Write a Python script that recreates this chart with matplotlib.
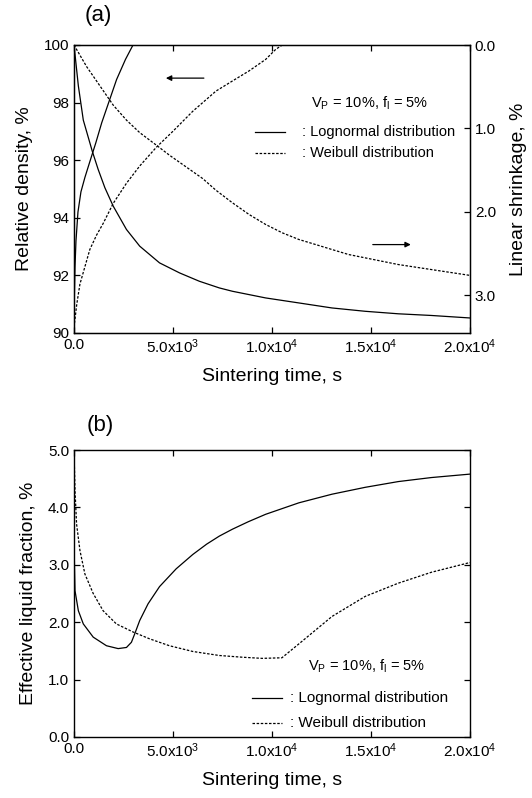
import matplotlib
matplotlib.use("Agg")
import matplotlib.pyplot as plt

plt.rcParams['font.family'] = ['Liberation Sans', 'DejaVu Sans']
plt.rcParams['mathtext.fontset'] = 'custom'
plt.rcParams['mathtext.rm'] = 'Liberation Sans'
plt.rcParams['mathtext.it'] = 'Liberation Sans:italic'

# --- data ---
# (a) relative density, lognormal
t_dens_logn = [0, 20, 50, 100, 200, 350, 550, 800, 1100, 1400, 1750, 2150, 2600, 2980, 20000]
dens_logn = [90.2, 91.3, 92.3, 93.2, 94.2, 94.9, 95.4, 95.95, 96.6, 97.3, 98.0, 98.8, 99.5, 100.0, 100.0]
# (a) relative density, weibull
t_dens_weib = [0, 140, 300, 550, 800, 1140, 1470, 1980, 2650, 3320, 4160, 4990, 6000, 7170,
               8000, 8840, 9680, 10190, 10520, 20000]
dens_weib = [90.2, 91.0, 91.7, 92.3, 92.9, 93.4, 93.8, 94.5, 95.2, 95.8, 96.45, 97.0, 97.7, 98.4,
             98.75, 99.1, 99.5, 99.85, 100.0, 100.0]
# (a) linear shrinkage, lognormal
t_shr_logn = [0, 220, 470, 920, 1220, 1560, 1980, 2650, 3320, 4320, 5330, 6330, 7340, 8000,
              9680, 11360, 13030, 14710, 16380, 18050, 20000]
shr_logn = [0.0, 0.49, 0.90, 1.27, 1.49, 1.71, 1.93, 2.21, 2.41, 2.61, 2.73, 2.83, 2.91, 2.95,
            3.03, 3.09, 3.15, 3.19, 3.22, 3.24, 3.27]
# (a) linear shrinkage, weibull
t_shr_weib = [0, 640, 1310, 1980, 2650, 3320, 4160, 4820, 5660, 6500, 7170, 8000, 8840, 9680,
              10520, 11360, 12200, 13030, 13870, 14710, 16380, 18050, 20000]
shr_weib = [0.0, 0.26, 0.49, 0.72, 0.90, 1.05, 1.20, 1.32, 1.46, 1.60, 1.74, 1.89, 2.03, 2.15,
            2.25, 2.33, 2.39, 2.45, 2.51, 2.55, 2.63, 2.69, 2.76]

# (b) effective liquid fraction
t_liq_logn = [0, 50, 220, 470, 970, 1640, 2230, 2650, 2900, 3070, 3320, 3740, 4320, 5160, 6000,
              6700, 7340, 8000, 8800, 9680, 11360, 13030, 14710, 16380, 18050, 20000]
liq_logn = [3.4, 2.55, 2.2, 1.97, 1.74, 1.59, 1.54, 1.56, 1.65, 1.80, 2.03, 2.32, 2.62, 2.93, 3.18,
            3.36, 3.50, 3.62, 3.75, 3.88, 4.08, 4.23, 4.35, 4.45, 4.52, 4.58]
t_liq_weib = [0, 50, 130, 300, 550, 970, 1470, 2140, 2980, 3820, 4820, 6000, 7340, 8500, 9500,
              10500, 11350, 13030, 14710, 16380, 18050, 20000]
liq_weib = [5.0, 4.3, 3.71, 3.25, 2.84, 2.5, 2.2, 1.97, 1.83, 1.71, 1.59, 1.49, 1.42, 1.39, 1.37,
            1.38, 1.62, 2.1, 2.45, 2.68, 2.87, 3.04]

xticks = [0, 5000, 10000, 15000, 20000]
xticklabels = ['0.0', '5.0x10$^{3}$', '1.0x10$^{4}$', '1.5x10$^{4}$', '2.0x10$^{4}$']

W, H = 532, 798
fig = plt.figure(figsize=(W / 100, H / 100), dpi=100)


def box(l, r, t, b):
    return [l / W, 1 - b / H, (r - l) / W, (b - t) / H]


def style(ax, right=True):
    ax.tick_params(direction='in', length=4, width=0.9, labelsize=11, top=True, right=right)
    for s in ax.spines.values():
        s.set_linewidth(1.0)
    ax.set_xlim(0, 20000)
    ax.set_xticks(xticks)
    ax.set_xticklabels(xticklabels)
    ax.set_xlabel('Sintering time, s', fontsize=14, labelpad=8)


def legend(ax, xtxt, ytxt, xl, yl, xt, fs):
    ax.text(xtxt, ytxt, r'V$_\mathrm{P}$ = 10%, f$_\mathrm{l}$ = 5%', transform=ax.transAxes,
            fontsize=10.5, ha='center', va='center')
    ax.plot(xl, [yl[0], yl[0]], transform=ax.transAxes, color='black', lw=0.9)
    ax.plot(xl, [yl[1], yl[1]], transform=ax.transAxes, color='black', lw=0.9, dashes=(2, 1.3))
    ax.text(xt, yl[0], ': Lognormal distribution', transform=ax.transAxes,
            fontsize=fs, va='center')
    ax.text(xt, yl[1], ': Weibull distribution', transform=ax.transAxes,
            fontsize=fs, va='center')


# ---------- (a) ----------
ax = fig.add_axes(box(74, 470, 45, 333))
ax.plot(t_dens_logn, dens_logn, color='black', lw=0.9)
ax.plot(t_dens_weib, dens_weib, color='black', lw=0.9, dashes=(2, 1.3))
ax.set_ylim(90, 100)
ax.set_yticks([90, 92, 94, 96, 98, 100])
style(ax, right=False)
ax.set_ylabel('Relative density, %', fontsize=14, labelpad=8)

ax2 = ax.twinx()
ax2.plot(t_shr_logn, shr_logn, color='black', lw=0.9)
ax2.plot(t_shr_weib, shr_weib, color='black', lw=0.9, dashes=(2, 1.3))
ax2.set_ylim(3.45, 0)
ax2.set_yticks([0, 1, 2, 3])
ax2.set_yticklabels(['0.0', '1.0', '2.0', '3.0'])
ax2.tick_params(direction='in', length=4, width=0.9, labelsize=11)
ax2.set_ylabel('Linear shrinkage, %', fontsize=14, labelpad=10)

ax.annotate('', xy=(4500, 98.85), xytext=(6700, 98.85),
            arrowprops=dict(arrowstyle='-|>', lw=0.9, color='black', mutation_scale=8))
ax.annotate('', xy=(17150, 93.07), xytext=(14950, 93.07),
            arrowprops=dict(arrowstyle='-|>', lw=0.9, color='black', mutation_scale=8))
legend(ax, 0.747, 0.798, [0.457, 0.533], [0.699, 0.624], 0.575, 10.5)
fig.text(98 / W, 1 - 15 / H, '(a)', fontsize=16, ha='center', va='center')

# ---------- (b) ----------
bx = fig.add_axes(box(74, 470, 450, 737))
bx.plot(t_liq_logn, liq_logn, color='black', lw=0.9)
bx.plot(t_liq_weib, liq_weib, color='black', lw=0.9, dashes=(2, 1.3))
bx.set_ylim(0, 5)
bx.set_yticks([0, 1, 2, 3, 4, 5])
bx.set_yticklabels(['0.0', '1.0', '2.0', '3.0', '4.0', '5.0'])
style(bx)
bx.set_ylabel('Effective liquid fraction, %', fontsize=14, labelpad=8)
legend(bx, 0.739, 0.245, [0.449, 0.524], [0.136, 0.049], 0.545, 11)
fig.text(100 / W, 1 - 425 / H, '(b)', fontsize=16, ha='center', va='center')

fig.savefig('out.png', dpi=100)
